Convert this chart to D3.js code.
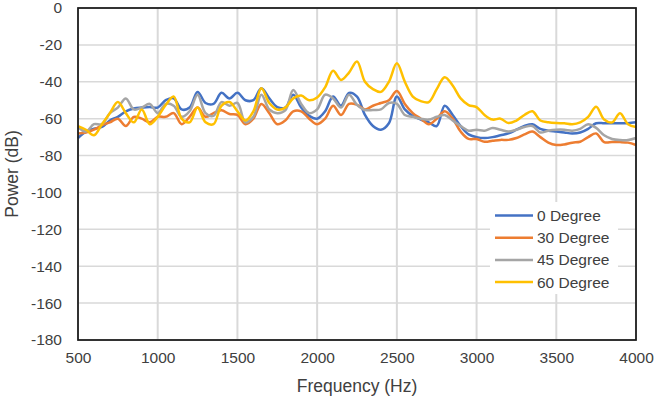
<!DOCTYPE html>
<html>
<head>
<meta charset="utf-8">
<script src="https://cdn.jsdelivr.net/npm/d3@7"></script>
<style>
  body { margin: 0; background: #fff; }
  text { font-family: "Liberation Sans", Arial, sans-serif; fill: #404040; }
</style>
</head>
<body>
<div id="chart"></div>
<script>
// frequency grid, 50 Hz steps
var freqs = d3.range(500, 4001, 50);

var deg0 = [
  -70.5, -67, -65.5, -64.5, -61, -59, -56, -54.5, -54, -53.7,
  -54, -50, -49, -55, -54, -45.5, -51.5, -52, -46, -49,
  -46, -50, -50, -43.5, -49, -53.7, -54, -47, -54, -58.5,
  -60, -56, -48, -53, -46, -48, -58, -64, -66, -62.5,
  -48, -55, -58.5, -60.5, -62, -64, -53, -58, -64, -68.5,
  -70, -70.5, -70, -69, -68, -66, -64, -63, -65.5, -66.5,
  -67, -67.5, -68, -67.5, -65.5, -62.5, -62.5, -62.5, -62.5, -62.5,
  -62
];
var deg30 = [
  -68, -67.5, -66, -63.5, -62, -60, -64, -59, -60, -62,
  -59, -59, -57, -63, -59, -54, -59, -57, -55.5, -57.5,
  -58, -63, -60, -52, -57, -63, -61, -56, -56, -60,
  -63, -60, -53, -58, -52, -52.5, -55, -53, -51.5, -50,
  -45, -52, -57, -60, -63, -60, -56, -60, -67, -71,
  -71, -72.5, -72, -71.5, -71.5, -70.5, -68.5, -67, -70, -73,
  -74.3, -74, -73, -72.5, -70, -68, -72.7, -72.7, -72.7, -73,
  -74.3
];
var deg45 = [
  -64.5, -67, -63, -63, -57, -54, -49, -55, -54, -52,
  -57, -52, -53, -59, -56, -47, -57, -58.5, -51, -53,
  -51.5, -62, -59, -47, -55, -57, -55.5, -44.5, -52, -57,
  -55, -47, -49, -54, -47, -52.5, -55.3, -55.3, -55, -51.5,
  -52, -58, -59, -60, -60.5, -59, -58, -61, -64, -66.5,
  -66, -66.5, -65, -66, -67, -66, -64.5, -64, -67.5, -66.5,
  -66, -66, -66.5, -65.5, -63, -65, -69, -71, -71.6, -71.6,
  -70.5
];
var deg60 = [
  -64, -66, -69, -63, -57, -51, -57, -62, -55, -63,
  -59, -52.6, -48, -60, -62, -54, -62, -63, -53, -51,
  -56, -61, -56, -43.5, -51.5, -55, -54, -49, -47.5, -50,
  -48.5, -43, -34, -39, -35, -29, -40, -44, -45.5, -40,
  -30, -40, -48, -50.5, -51, -44, -37.5, -42, -49, -52.6,
  -53.7, -58, -60.5, -60, -62.4, -61, -58, -56, -61, -62,
  -62.4, -62.5, -63, -62, -59, -53.5, -60.5, -62, -57, -63,
  -64.5
];

var seriesNames = ['0 Degree', '30 Degree', '45 Degree', '60 Degree'];
var seriesColors = ['#4472C4', '#ED7D31', '#A5A5A5', '#FFC000'];
var seriesValues = [deg0, deg30, deg45, deg60];

var xTicks = [500, 1000, 1500, 2000, 2500, 3000, 3500, 4000];
var yTicks = [0, -20, -40, -60, -80, -100, -120, -140, -160, -180];

var width = 656, height = 400;
var margin = {left: 78, right: 20, top: 8, bottom: 60};

var svg = d3.select('#chart')
  .append('svg')
  .attr('width', width)
  .attr('height', height);

var x = d3.scaleLinear()
  .domain([500, 4000])
  .range([margin.left, width - margin.right]);
var y = d3.scaleLinear()
  .domain([-180, 0])
  .range([height - margin.bottom, margin.top]);

// gridlines
svg.append('g')
  .selectAll('line')
  .data(yTicks)
  .enter()
  .append('line')
  .attr('x1', x(500)).attr('x2', x(4000))
  .attr('y1', function (d) { return y(d); })
  .attr('y2', function (d) { return y(d); })
  .attr('stroke', '#d9d9d9')
  .attr('stroke-width', 1.5);
svg.append('g')
  .selectAll('line')
  .data(xTicks)
  .enter()
  .append('line')
  .attr('y1', y(-180)).attr('y2', y(0))
  .attr('x1', function (d) { return x(d); })
  .attr('x2', function (d) { return x(d); })
  .attr('stroke', '#d9d9d9')
  .attr('stroke-width', 2);

// axes, labels only
var xAxis = svg.append('g')
  .attr('transform', 'translate(0,' + y(-180) + ')')
  .call(d3.axisBottom(x).tickValues(xTicks).tickSize(0).tickPadding(12)
    .tickFormat(function (d) { return String(d); }));
var yAxis = svg.append('g')
  .attr('transform', 'translate(' + x(500) + ',0)')
  .call(d3.axisLeft(y).tickValues(yTicks).tickSize(0).tickPadding(16)
    .tickFormat(function (d) { return String(d).replace('\u2212', '-'); }));
[xAxis, yAxis].forEach(function (a) {
  a.select('.domain').remove();
  a.selectAll('text')
    .style('font-family', '"Liberation Sans", Arial, sans-serif')
    .style('font-size', '15.5px')
    .attr('fill', '#404040');
});

// series lines
var line = d3.line()
  .x(function (d, i) { return x(freqs[i]); })
  .y(function (d) { return y(d); })
  .curve(d3.curveCatmullRom.alpha(0.5));

svg.append('g')
  .selectAll('path')
  .data(seriesValues)
  .enter()
  .append('path')
  .attr('d', line)
  .attr('fill', 'none')
  .attr('stroke', function (d, i) { return seriesColors[i]; })
  .attr('stroke-width', 2.5)
  .attr('stroke-linejoin', 'round');

// plot border
svg.append('rect')
  .attr('x', x(500)).attr('y', y(0))
  .attr('width', x(4000) - x(500))
  .attr('height', y(-180) - y(0))
  .attr('fill', 'none')
  .attr('stroke', '#1a1a1a')
  .attr('stroke-width', 1.75);

// axis titles
svg.append('text')
  .attr('x', (x(500) + x(4000)) / 2)
  .attr('y', 392)
  .attr('text-anchor', 'middle')
  .style('font-size', '17.5px')
  .text('Frequency (Hz)');
svg.append('text')
  .attr('transform', 'translate(18,' + ((y(0) + y(-180)) / 2) + ') rotate(-90)')
  .attr('text-anchor', 'middle')
  .style('font-size', '17.5px')
  .text('Power (dB)');

// legend
var legend = svg.append('g');
legend.append('rect')
  .attr('x', 490).attr('y', 202)
  .attr('width', 128).attr('height', 92)
  .attr('fill', '#fff');
var item = legend.selectAll('g.item')
  .data(seriesNames)
  .enter()
  .append('g')
  .attr('class', 'item')
  .attr('transform', function (d, i) { return 'translate(0,' + (215.5 + i * 22.2) + ')'; });
item.append('line')
  .attr('x1', 495).attr('x2', 533)
  .attr('stroke', function (d, i) { return seriesColors[i]; })
  .attr('stroke-width', 2.5);
item.append('text')
  .attr('x', 537)
  .attr('dy', '0.35em')
  .style('font-size', '15.5px')
  .text(function (d) { return d; });
</script>
</body>
</html>
